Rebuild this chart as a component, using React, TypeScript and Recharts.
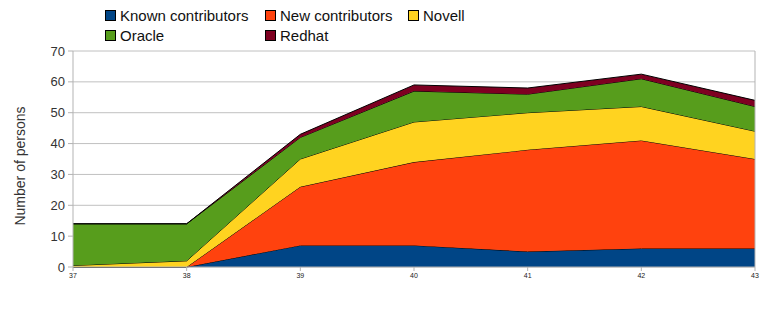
import React from "react";
import { AreaChart, Area, XAxis, YAxis, CartesianGrid, ReferenceLine } from "recharts";

const weeks = ["37", "38", "39", "40", "41", "42", "43"];
const known = [0, 0, 7, 7, 5, 6, 6];
const newer = [0, 0, 19, 27, 33, 35, 29];
const novell = [0.5, 2, 9, 13, 12, 11, 9];
const oracle = [13.5, 12, 7, 10, 6, 9, 8];
const redhat = [0, 0, 1, 2, 2, 1.5, 2];
const yTicks = [0, 10, 20, 30, 40, 50, 60, 70];

const series = [
  { key: "known", name: "Known contributors", color: "#004586" },
  { key: "newer", name: "New contributors", color: "#ff420e" },
  { key: "novell", name: "Novell", color: "#ffd320" },
  { key: "oracle", name: "Oracle", color: "#579d1c" },
  { key: "redhat", name: "Redhat", color: "#7e0021" },
];

const data = weeks.map((w, i) => ({
  week: w,
  known: known[i],
  newer: newer[i],
  novell: novell[i],
  oracle: oracle[i],
  redhat: redhat[i],
}));

const legendPos = [
  { left: 105, top: 7 },
  { left: 265, top: 7 },
  { left: 408, top: 7 },
  { left: 105, top: 27 },
  { left: 265, top: 27 },
];

const font = "'Liberation Sans', Arial, sans-serif";

export default function App() {
  return (
    <div style={{ position: "absolute", left: 0, top: 0, width: 784, height: 314, background: "#fff", fontFamily: font }}>
      {series.map((s, i) => (
        <div key={s.key} style={{ position: "absolute", left: legendPos[i].left, top: legendPos[i].top, display: "flex", alignItems: "center", fontSize: 15, color: "#111", whiteSpace: "nowrap" }}>
          <span style={{ display: "inline-block", width: 9, height: 9, background: s.color, border: "1px solid #000", marginRight: 4 }} />
          <span>{s.name}</span>
        </div>
      ))}
      <div style={{ position: "absolute", left: 20, top: 166, width: 0, height: 0 }}>
        <div style={{ position: "absolute", left: 0, top: 0, transform: "translate(-50%, -50%) rotate(-90deg)", fontSize: 14, color: "#333", whiteSpace: "nowrap" }}>
          Number of persons
        </div>
      </div>
      <AreaChart width={784} height={314} data={data} margin={{ top: 51, right: 29, left: 0, bottom: 0 }}>
        <CartesianGrid vertical={false} stroke="#c0c0c0" strokeWidth={1} />
        <XAxis
          dataKey="week"
          height={47}
          stroke="#b3b3b3"
          tickSize={4}
          tick={{ fontSize: 7, fill: "#222", fontFamily: font }}
          interval={0}
        />
        <YAxis
          width={73}
          domain={[0, 70]}
          ticks={yTicks}
          stroke="#b3b3b3"
          tickSize={5}
          tickMargin={3}
          tick={{ fontSize: 13, fill: "#333", fontFamily: font }}
        />
        {series.map((s) => (
          <Area
            key={s.key}
            type="linear"
            dataKey={s.key}
            name={s.name}
            stackId="1"
            stroke="#000"
            strokeWidth={1}
            fill={s.color}
            fillOpacity={1}
            isAnimationActive={false}
            dot={false}
            activeDot={false}
          />
        ))}
        <ReferenceLine x="43" stroke="#b3b3b3" />
      </AreaChart>
    </div>
  );
}
